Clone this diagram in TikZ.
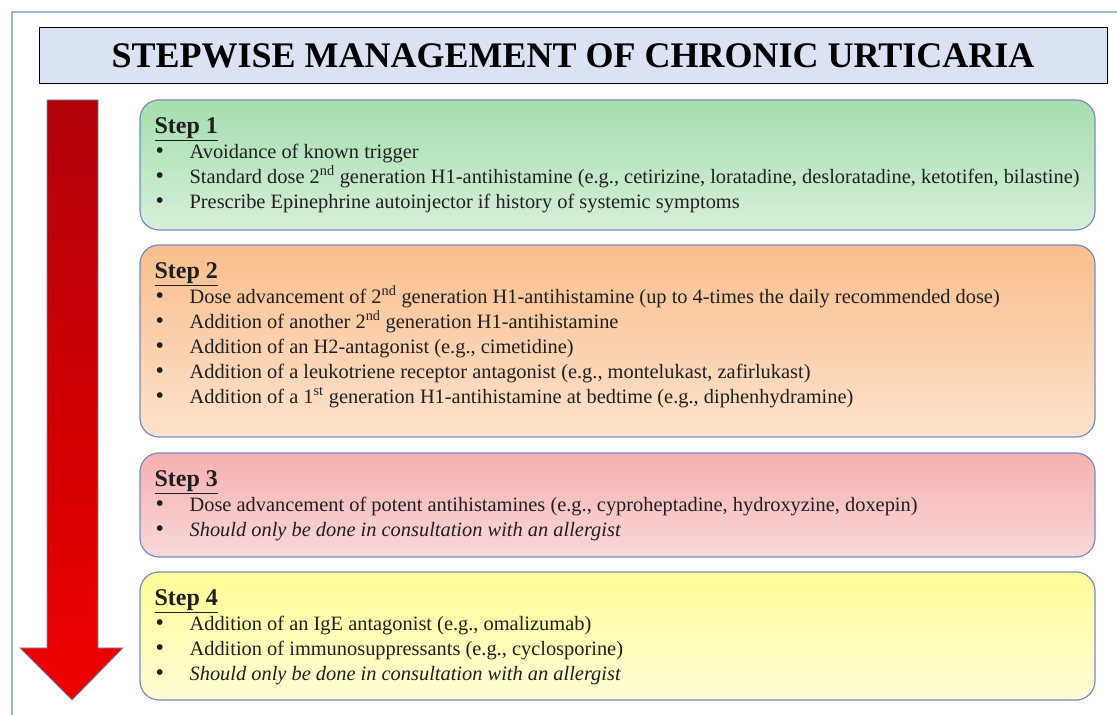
\documentclass[tikz,border=0pt]{standalone}
\usepackage{fontspec}
\setmainfont{Liberation Serif}
\usetikzlibrary{positioning}

\definecolor{framecol}{RGB}{160,178,214}
\definecolor{boxline}{RGB}{118,140,190}
\definecolor{titlefill}{RGB}{218,226,243}
\newcommand{\itm}[1]{\hspace*{1pt}\makebox[34pt][l]{{\fontsize{24}{25}\selectfont\textbullet}}#1}
\newcommand{\steplab}[1]{{\fontsize{24}{25}\selectfont\bfseries\underline{Step #1}}}

\begin{document}
\begin{tikzpicture}[x=1pt,y=1pt]
\tikzstyle{every node}+=[inner sep=0pt]
\tikzstyle{stepbox}=[draw=boxline, line width=1.2pt, rounded corners=19pt, minimum width=955pt]
\tikzstyle{steptext}=[anchor=north west, align=left, font=\fontsize{20.4}{25}\selectfont, text=black!88]
\useasboundingbox (0,0) rectangle (1117,715);
\fill[white] (0,0) rectangle (1117,715);
% outer frame
\draw[framecol, line width=1.2pt] (12,-5) -- (12,703) -- (1120,703);
% title
\node[draw=black, line width=1pt, fill=titlefill, minimum width=1068pt, minimum height=56pt,
  font=\fontsize{36}{40}\selectfont\bfseries] (title) at (573,659) {STEPWISE MANAGEMENT OF CHRONIC URTICARIA};
% red arrow
\draw[boxline, line width=0.8pt, top color={rgb,255:red,175;green,0;blue,10}, bottom color={rgb,255:red,238;green,0;blue,0}]
  (47,615) -- (98,615) -- (98,67) -- (123,67) -- (72,15) -- (20,67) -- (47,67) -- cycle;
% step boxes
\node[stepbox, minimum height=130pt, top color={rgb,255:red,165;green,222;blue,174}, bottom color={rgb,255:red,214;green,239;blue,218}] (s1) at (617.5,550) {};
\node[stepbox, minimum height=192pt, top color={rgb,255:red,249;green,190;blue,140}, bottom color={rgb,255:red,252;green,226;blue,204}] (s2) at (617.5,374) {};
\node[stepbox, minimum height=104pt, top color={rgb,255:red,247;green,176;blue,176}, bottom color={rgb,255:red,248;green,216;blue,218}] (s3) at (617.5,210) {};
\node[stepbox, minimum height=128pt, top color={rgb,255:red,255;green,252;blue,150}, bottom color={rgb,255:red,255;green,253;blue,214}] (s4) at (617.5,79) {};
% step texts
\node[steptext] (t1) at ([shift={(15,-18)}]s1.north west) {\steplab{1}\\
  \itm{Avoidance of known trigger}\\
  \itm{Standard dose 2\textsuperscript{nd} generation H1-antihistamine (e.g., cetirizine, loratadine, desloratadine, ketotifen, bilastine)}\\
  \itm{Prescribe Epinephrine autoinjector if history of systemic symptoms}};
\node[steptext] (t2) at ([shift={(15,-18)}]s2.north west) {\steplab{2}\\
  \itm{Dose advancement of 2\textsuperscript{nd} generation H1-antihistamine (up to 4-times the daily recommended dose)}\\
  \itm{Addition of another 2\textsuperscript{nd} generation H1-antihistamine}\\
  \itm{Addition of an H2-antagonist (e.g., cimetidine)}\\
  \itm{Addition of a leukotriene receptor antagonist (e.g., montelukast, zafirlukast)}\\
  \itm{Addition of a 1\textsuperscript{st} generation H1-antihistamine at bedtime (e.g., diphenhydramine)}};
\node[steptext] (t3) at ([shift={(15,-18)}]s3.north west) {\steplab{3}\\
  \itm{Dose advancement of potent antihistamines (e.g., cyproheptadine, hydroxyzine, doxepin)}\\
  \itm{\textit{Should only be done in consultation with an allergist}}};
\node[steptext] (t4) at ([shift={(15,-18)}]s4.north west) {\steplab{4}\\
  \itm{Addition of an IgE antagonist (e.g., omalizumab)}\\
  \itm{Addition of immunosuppressants (e.g., cyclosporine)}\\
  \itm{\textit{Should only be done in consultation with an allergist}}};
\end{tikzpicture}
\end{document}
